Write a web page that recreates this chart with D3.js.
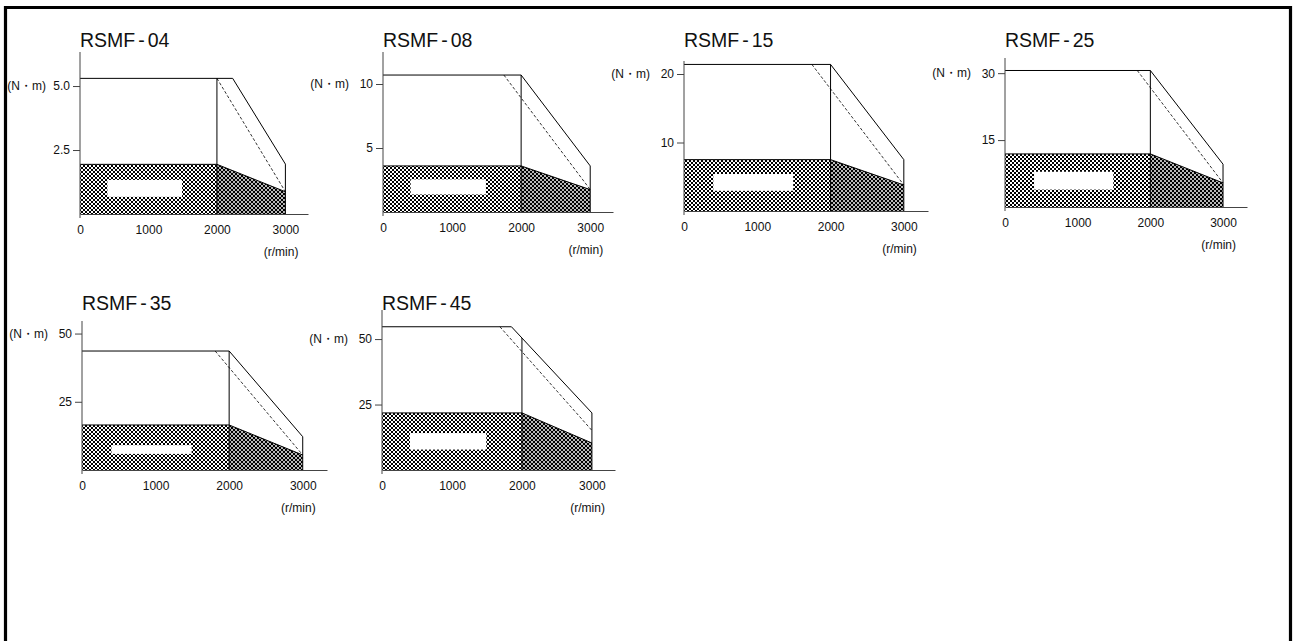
<!DOCTYPE html>
<html>
<head>
<meta charset="utf-8">
<script src="https://cdn.jsdelivr.net/npm/d3@7"></script>
<style>
  body { margin: 0; background: #fff; }
  svg { display: block; }
</style>
</head>
<body>
<div id="chart"></div>
<script>
// torque / speed curves (N·m against r/min)
const models = ["RSMF-04", "RSMF-08", "RSMF-15", "RSMF-25", "RSMF-35", "RSMF-45"];
const xTicks = [0, 1000, 2000, 3000];
const yTicks = [[2.5, 5.0], [5, 10], [10, 20], [15, 30], [25, 50], [25, 50]];
const yMax = [6.33, 12.5, 21.9, 33.4, 54.6, 61.1];
const xMax = 3330;
const ratedSpeed = 2000;
const maxSpeed = 3000;

const peakTorque = [5.3, 10.7, 21.4, 30.6, 43.6, 54.7];
const peakKnee = [2230, 2000, 2000, 2000, 2000, 1850];
const peakAtMax = [1.95, 3.6, 7.5, 9.6, 12.2, 21.8];
const dashStart = [2000, 1750, 1745, 1820, 1810, 1685];
const dashAtMax = [0.87, 1.75, 3.8, 5.4, 5.5, 15.1];
const ratedTorque = [1.94, 3.6, 7.5, 11.9, 16.5, 21.8];
const ratedAtMax = [0.87, 1.75, 3.8, 5.4, 5.5, 10.3];
// white cut-out inside the hatched zone
const boxSpeed = [400, 1490];
const boxLow = [0.67, 1.37, 2.95, 3.9, 5.9, 7.8];
const boxHigh = [1.33, 2.55, 5.4, 7.9, 9.1, 14.1];

// where each small chart sits (axis origin, size in px)
const layout = [
  {x: 80, y: 214, w: 228, h: 162},
  {x: 383, y: 212, w: 230, h: 160},
  {x: 684, y: 211, w: 244, h: 150},
  {x: 1005, y: 207, w: 242, h: 149},
  {x: 82, y: 470, w: 245, h: 149},
  {x: 382, y: 470, w: 233, h: 160}
];

var width = 1293;
var height = 641;
var font = "Arial, 'Liberation Sans', sans-serif";

var svg = d3.select("#chart").append("svg")
  .attr("width", width)
  .attr("height", height);

svg.append("rect")
  .attr("width", width)
  .attr("height", height)
  .attr("fill", "#fff");

// pixel cross hatch, one X per 4x4 tile
var defs = svg.append("defs");
var xPixels = [[0, 0], [1, 1], [2, 2], [3, 3], [3, 0], [2, 1], [1, 2], [0, 3]];
function hatch(id, bg) {
  var p = defs.append("pattern")
    .attr("id", id)
    .attr("patternUnits", "userSpaceOnUse")
    .attr("width", 4)
    .attr("height", 4);
  p.append("rect").attr("width", 4).attr("height", 4).attr("fill", bg);
  p.append("path")
    .attr("d", xPixels.map(d => "M" + d[0] + "," + d[1] + "h1v1h-1z").join(""))
    .attr("fill", "#000")
    .attr("shape-rendering", "crispEdges");
}
hatch("hatchA", "#fff");
hatch("hatchB", "#b8b8b8");

// frame: left, top, right
svg.append("path")
  .attr("d", "M5.5," + height + " V7.5 H1290.5 V" + height)
  .attr("fill", "none")
  .attr("stroke", "#000")
  .attr("stroke-width", 3.2);

models.forEach(function (name, i) {
  var L = layout[i];
  var x = d3.scaleLinear().domain([0, xMax]).range([0, L.w]);
  var y = d3.scaleLinear().domain([0, yMax[i]]).range([0, -L.h]);

  var g = svg.append("g")
    .attr("transform", "translate(" + L.x + "," + L.y + ")");

  // hatched continuous zone, left and right of rated speed
  var area = d3.area().x(d => x(d[0])).y0(y(0)).y1(d => y(d[1]));
  g.append("path")
    .attr("d", area([[0, ratedTorque[i]], [ratedSpeed, ratedTorque[i]]]))
    .attr("fill", "url(#hatchA)");
  g.append("path")
    .attr("d", area([[ratedSpeed, ratedTorque[i]], [maxSpeed, ratedAtMax[i]]]))
    .attr("fill", "url(#hatchB)");

  g.append("rect")
    .attr("x", x(boxSpeed[0]))
    .attr("y", y(boxHigh[i]))
    .attr("width", x(boxSpeed[1]) - x(boxSpeed[0]))
    .attr("height", y(boxLow[i]) - y(boxHigh[i]))
    .attr("fill", "#fff");

  var line = d3.line().x(d => x(d[0])).y(d => y(d[1]));

  g.append("path")
    .attr("d", line([[0, ratedTorque[i]], [ratedSpeed, ratedTorque[i]], [maxSpeed, ratedAtMax[i]]]))
    .attr("fill", "none")
    .attr("stroke", "#000")
    .attr("stroke-width", 1);

  // peak torque curve
  g.append("path")
    .attr("d", line([[0, peakTorque[i]], [peakKnee[i], peakTorque[i]],
      [maxSpeed, peakAtMax[i]], [maxSpeed, 0]]))
    .attr("fill", "none")
    .attr("stroke", "#000")
    .attr("stroke-width", 1);

  // rated speed line, up to the peak curve
  var peakAt = d3.scaleLinear()
    .domain([peakKnee[i], maxSpeed])
    .range([peakTorque[i], peakAtMax[i]])
    .clamp(true);
  g.append("path")
    .attr("d", line([[ratedSpeed, 0], [ratedSpeed, peakAt(ratedSpeed)]]))
    .attr("stroke", "#000")
    .attr("stroke-width", 1);

  g.append("path")
    .attr("d", line([[dashStart[i], peakTorque[i]], [maxSpeed, dashAtMax[i]]]))
    .attr("fill", "none")
    .attr("stroke", "#000")
    .attr("stroke-width", 0.8)
    .attr("stroke-dasharray", "3,2");

  // axes
  var yAxis = g.append("g")
    .call(d3.axisLeft(y)
      .tickValues(yTicks[i])
      .tickSize(7)
      .tickSizeOuter(0)
      .tickPadding(3)
      .tickFormat(i === 0 ? d3.format(".1f") : d3.format("d")));
  yAxis.select(".domain").remove();

  g.append("g")
    .call(d3.axisBottom(x)
      .tickValues(xTicks)
      .tickSize(0)
      .tickPadding(11)
      .tickFormat(d3.format("d")));

  g.append("line")
    .attr("x1", 0).attr("x2", 0)
    .attr("y1", 4).attr("y2", -L.h)
    .attr("stroke", "#444")
    .attr("stroke-width", 1);

  g.selectAll(".domain").attr("stroke", "#444");
  g.selectAll(".tick line").attr("stroke", "#444");
  g.selectAll(".tick text")
    .attr("font-family", font)
    .attr("font-size", "12px")
    .attr("fill", "#111");

  // unit labels
  g.append("text")
    .attr("x", -34)
    .attr("y", y(yTicks[i][1]))
    .attr("dy", "0.35em")
    .attr("text-anchor", "end")
    .attr("font-family", font)
    .attr("font-size", "12px")
    .attr("fill", "#111")
    .text("(N・m)");

  g.append("text")
    .attr("x", x(maxSpeed) + 13)
    .attr("y", 42)
    .attr("text-anchor", "end")
    .attr("font-family", font)
    .attr("font-size", "12px")
    .attr("fill", "#111")
    .text("(r/min)");

  // title
  var parts = name.split("-");
  var title = g.append("text")
    .attr("x", 0)
    .attr("y", (i < 4 ? 47 : 310) - L.y)
    .attr("font-family", font)
    .attr("font-size", "19.5px")
    .attr("fill", "#111");
  title.append("tspan").text(parts[0]);
  title.append("tspan").attr("dx", 3).text("-");
  title.append("tspan").attr("dx", 3).text(parts[1]);
});
</script>
</body>
</html>
